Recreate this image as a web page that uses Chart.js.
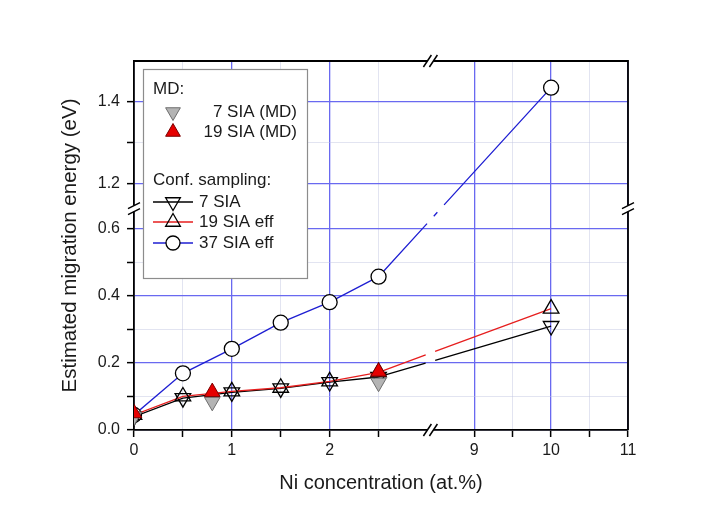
<!DOCTYPE html>
<html>
<head>
<meta charset="utf-8">
<script src="https://cdn.jsdelivr.net/npm/chart.js@4.4.1/dist/chart.umd.min.js"></script>
<style>
  html, body { margin: 0; background: #fff; }
  #wrap { width: 718px; height: 514px; }
</style>
</head>
<body>
<div id="wrap"><canvas id="myChart" width="718" height="514"></canvas></div>
<script>
// Ni concentration (at.%) and estimated migration energies (eV)
const conc = [0, 0.5, 1, 1.5, 2, 2.5, 10];
const sia7 = [0.04, 0.095, 0.112, 0.124, 0.143, 0.158, 0.31];
const sia19 = [0.045, 0.1, 0.115, 0.126, 0.145, 0.172, 0.362];
const sia37 = [0.045, 0.169, 0.242, 0.32, 0.381, 0.457, 1.435];

// molecular dynamics results
const mdConc = [0, 0.8, 2.5];
const md7 = [0.04, 0.084, 0.141];
const md19 = [0.05, 0.113, 0.174];

const xTicks = [0, 0.5, 1, 1.5, 2, 2.5, 9, 9.5, 10, 10.5, 11];
const xLabelled = [0, 1, 2, 9, 10, 11];
const yTicks = [0, 0.1, 0.2, 0.3, 0.4, 0.5, 0.6, 1.2, 1.3, 1.4];
const yLabelled = [0, 0.2, 0.4, 0.6, 1.2, 1.4];

// axis breaks: values between `from` and `to` are cut out, the cut sits at fraction `at` of the axis
const xBreak = { from: 3.03, to: 8.43, at: 0.6 };
const yBreak = { from: 0.66, to: 1.14, at: 0.6 };

Chart.defaults.font.family = '"Liberation Sans", Arial, sans-serif';
Chart.defaults.color = "#1a1a1a";

// linear scale with one section removed
class BrokenLinearScale extends Chart.LinearScale {
  static id = "brokenLinear";
  toDecimal(v) {
    const b = this.options.brk;
    if (v <= b.from) return ((v - this.min) / (b.from - this.min)) * b.at;
    return b.at + ((v - b.to) / (this.max - b.to)) * (1 - b.at);
  }
  getPixelForValue(v) {
    return this.getPixelForDecimal(this.toDecimal(v));
  }
  getValueForPixel(px) {
    const b = this.options.brk;
    const d = this.getDecimalForPixel(px);
    if (d <= b.at) return this.min + (d / b.at) * (b.from - this.min);
    return b.to + ((d - b.at) / (1 - b.at)) * (this.max - b.to);
  }
}
Chart.register(BrokenLinearScale);

// leave a short gap where a line crosses an axis break
function breakGaps(ctx) {
  const { p0, p1, chart } = ctx;
  const bx = chart.scales.x.getPixelForDecimal(xBreak.at);
  const by = chart.scales.y.getPixelForDecimal(yBreak.at);
  const dx = p1.x - p0.x, dy = p1.y - p0.y;
  const len = Math.hypot(dx, dy);
  const cuts = [];
  if ((p0.x - bx) * (p1.x - bx) < 0) cuts.push(((bx - p0.x) / dx) * len);
  if ((p0.y - by) * (p1.y - by) < 0) cuts.push(((by - p0.y) / dy) * len);
  if (!cuts.length) return undefined;
  cuts.sort((a, b) => a - b);
  const dash = [];
  let pos = 0;
  cuts.forEach((c) => {
    dash.push(c - 5 - pos, 10);
    pos = c + 5;
  });
  dash.push(len - pos + 2, len);
  return dash;
}

const pts = (xs, ys) => xs.map((x, i) => ({ x: x, y: ys[i] }));

const majorGrid = "rgb(105, 105, 240)";
const minorGrid = "rgba(190, 195, 225, 0.45)";

const frame = {
  id: "frame",
  afterDraw(chart) {
    const { ctx, chartArea: a, scales } = chart;
    ctx.save();
    ctx.strokeStyle = "#000";
    ctx.lineWidth = 1.8;
    ctx.beginPath();
    ctx.moveTo(a.left, a.top);
    ctx.lineTo(a.right, a.top);
    ctx.lineTo(a.right, a.bottom);
    ctx.stroke();

    const bx = scales.x.getPixelForDecimal(xBreak.at);
    const by = scales.y.getPixelForDecimal(yBreak.at);
    const mark = (x, y, horiz) => {
      ctx.fillStyle = "#fff";
      if (horiz) ctx.fillRect(x - 3, y - 2, 6, 4);
      else ctx.fillRect(x - 2, y - 3, 4, 6);
      ctx.lineWidth = 1.5;
      ctx.beginPath();
      for (const d of [-3, 3]) {
        if (horiz) {
          ctx.moveTo(x + d - 4, y + 6);
          ctx.lineTo(x + d + 4, y - 6);
        } else {
          ctx.moveTo(x - 6, y + d + 3);
          ctx.lineTo(x + 6, y + d - 3);
        }
      }
      ctx.stroke();
    };
    mark(bx, a.bottom, true);
    mark(bx, a.top, true);
    mark(a.left, by, false);
    mark(a.right, by, false);
    ctx.restore();
  },
};

// boxed legend with two groups
const legendBox = {
  id: "legendBox",
  afterDraw(chart) {
    const ctx = chart.ctx;
    const ds = chart.data.datasets;
    ctx.save();
    ctx.fillStyle = "#fff";
    ctx.fillRect(143, 69, 164, 209);
    ctx.strokeStyle = "#8c8c8c";
    ctx.lineWidth = 1.2;
    ctx.strokeRect(143.5, 69.5, 164, 209);

    ctx.font = '17px "Liberation Sans", Arial, sans-serif';
    ctx.fillStyle = "#1a1a1a";
    ctx.textBaseline = "middle";
    ctx.textAlign = "left";
    ctx.fillText("MD:", 153, 89);
    ctx.fillText("Conf. sampling:", 153, 180);

    const rows = [
      { i: 1, y: 112, right: true },
      { i: 0, y: 132, right: true },
      { i: 3, y: 202, right: false },
      { i: 2, y: 222, right: false },
      { i: 4, y: 243, right: false },
    ];
    rows.forEach((r) => {
      const d = ds[r.i];
      if (d.showLine !== false) {
        ctx.strokeStyle = d.borderColor;
        ctx.lineWidth = d.borderWidth;
        ctx.beginPath();
        ctx.moveTo(153, r.y);
        ctx.lineTo(193, r.y);
        ctx.stroke();
      }
      ctx.fillStyle = d.pointBackgroundColor;
      ctx.strokeStyle = d.pointBorderColor;
      ctx.lineWidth = d.pointBorderWidth;
      Chart.helpers.drawPoint(ctx, {
        pointStyle: d.pointStyle,
        rotation: d.pointRotation || 0,
        radius: d.pointRadius - 0.5,
        borderWidth: d.pointBorderWidth,
      }, 173, r.y);
      ctx.fillStyle = "#1a1a1a";
      ctx.textAlign = r.right ? "right" : "left";
      ctx.fillText(d.label, r.right ? 297 : 199, r.y);
    });
    ctx.restore();
  },
};

const data = {
  datasets: [
    {
      label: "19 SIA (MD)",
      data: pts(mdConc, md19),
      showLine: false,
      pointStyle: "triangle",
      pointRadius: 9,
      pointBackgroundColor: "#e60000",
      pointBorderColor: "#7a0000",
      pointBorderWidth: 1,
    },
    {
      label: "7 SIA (MD)",
      data: pts(mdConc, md7),
      showLine: false,
      pointStyle: "triangle",
      pointRotation: 180,
      pointRadius: 9,
      pointBackgroundColor: "#b4b4b4",
      pointBorderColor: "#6e6e6e",
      pointBorderWidth: 1,
    },
    {
      label: "19 SIA eff",
      data: pts(conc, sia19),
      borderColor: "#e61e1e",
      borderWidth: 1.3,
      pointStyle: "triangle",
      pointRadius: 9,
      pointBackgroundColor: "rgba(0,0,0,0)",
      pointBorderColor: "#000",
      pointBorderWidth: 1.3,
      segment: { borderDash: breakGaps },
    },
    {
      label: "7 SIA",
      data: pts(conc, sia7),
      borderColor: "#000",
      borderWidth: 1.3,
      pointStyle: "triangle",
      pointRotation: 180,
      pointRadius: 9,
      pointBackgroundColor: "rgba(0,0,0,0)",
      pointBorderColor: "#000",
      pointBorderWidth: 1.3,
      segment: { borderDash: breakGaps },
    },
    {
      label: "37 SIA eff",
      data: pts(conc, sia37),
      borderColor: "#1e1ed2",
      borderWidth: 1.3,
      pointStyle: "circle",
      pointRadius: 7.5,
      pointBackgroundColor: "#fff",
      pointBorderColor: "#000",
      pointBorderWidth: 1.3,
      segment: { borderDash: breakGaps },
    },
  ],
};

const gridOpts = {
  color: (c) => (c.tick && c.tick.major ? majorGrid : minorGrid),
  lineWidth: (c) => (c.tick && c.tick.major ? 1.3 : 1),
  tickLength: 7,
  tickColor: "#000",
  tickWidth: 1.5,
};

const config = {
  type: "line",
  data: data,
  options: {
    responsive: false,
    animation: false,
    events: [],
    layout: { padding: { left: 0, top: 61, right: 90, bottom: 0 } },
    plugins: {
      legend: { display: false },
      tooltip: { enabled: false },
    },
    scales: {
      x: {
        type: "brokenLinear",
        min: 0,
        max: 11,
        brk: xBreak,
        afterBuildTicks: (s) => {
          s.ticks = xTicks.map((v) => ({ value: v, major: xLabelled.includes(v) }));
        },
        afterFit: (s) => { s.height = 84; },
        grid: gridOpts,
        border: { color: "#000", width: 1.8 },
        ticks: {
          autoSkip: false,
          maxRotation: 0,
          padding: 4,
          font: { size: 16 },
          callback: (v, i, t) => (t[i].major ? String(v) : ""),
        },
        title: {
          display: true,
          text: "Ni concentration (at.%)",
          font: { size: 20 },
          padding: { top: 0, bottom: 19 },
        },
      },
      y: {
        type: "brokenLinear",
        min: 0,
        max: 1.5,
        brk: yBreak,
        afterBuildTicks: (s) => {
          s.ticks = yTicks.map((v) => ({ value: v, major: yLabelled.includes(v) }));
        },
        afterFit: (s) => { s.width = 134; },
        grid: gridOpts,
        border: { color: "#000", width: 1.8 },
        ticks: {
          autoSkip: false,
          padding: 7,
          font: { size: 16 },
          callback: (v, i, t) => (t[i].major ? v.toFixed(1) : ""),
        },
        title: {
          display: true,
          text: "Estimated migration energy (eV)",
          font: { size: 20.5 },
          padding: { top: 58, bottom: 0 },
        },
      },
    },
  },
  plugins: [frame, legendBox],
};

const myChart = new Chart(document.getElementById("myChart").getContext("2d"), config);
</script>
</body>
</html>
